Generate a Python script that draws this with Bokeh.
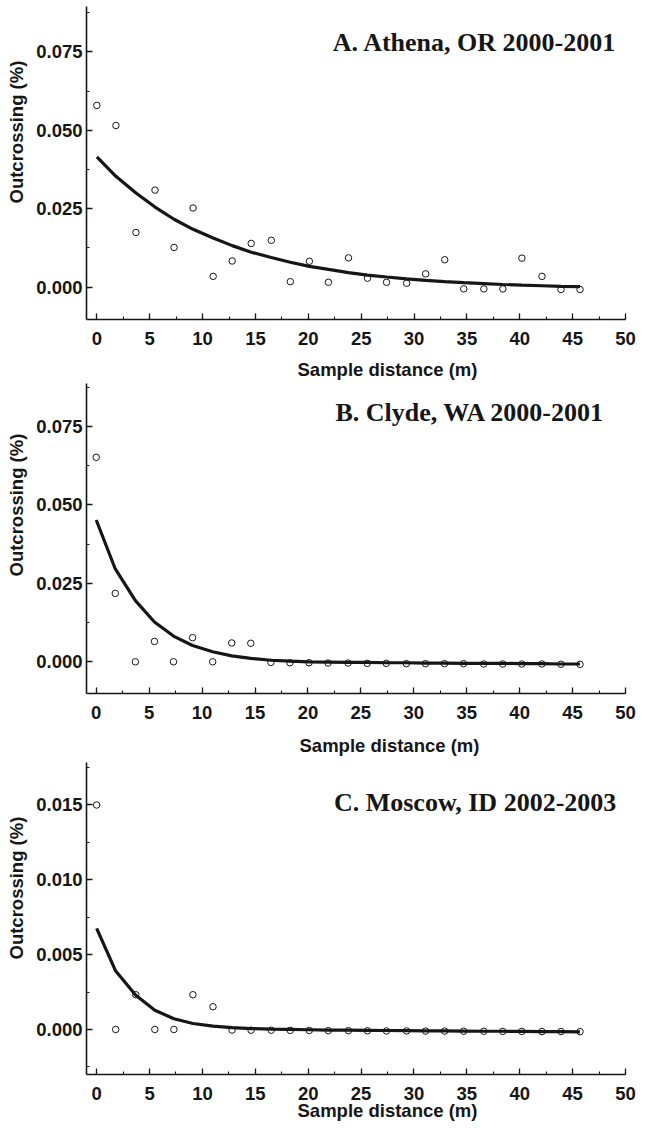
from bokeh.plotting import figure
from bokeh.models import Range1d, SingleIntervalTicker, PrintfTickFormatter, Label, Title
from bokeh.layouts import column
from bokeh.embed import file_html
from bokeh.resources import INLINE

# Sample distances (m), every 6 ft
dist_m = [0.0, 1.8, 3.7, 5.5, 7.3, 9.1, 11.0, 12.8, 14.6, 16.5, 18.3, 20.1, 21.9,
          23.8, 25.6, 27.4, 29.3, 31.1, 32.9, 34.7, 36.6, 38.4, 40.2, 42.1, 43.9, 45.7]

# A. Athena, OR 2000-2001
athena_obs = [0.0579, 0.0515, 0.0174, 0.0309, 0.0126, 0.0252, 0.0034, 0.0083, 0.0139,
              0.0149, 0.0017, 0.0082, 0.0015, 0.0093, 0.0028, 0.0015, 0.0012, 0.0042,
              0.0087, -0.0006, -0.0006, -0.0006, 0.0092, 0.0034, -0.0008, -0.0008]
athena_fit = [0.0415, 0.0353, 0.0300, 0.0255, 0.0216, 0.0184, 0.0156, 0.0132, 0.0111,
              0.0094, 0.0079, 0.0066, 0.0056, 0.0046, 0.0038, 0.0032, 0.0026, 0.0021,
              0.0017, 0.0014, 0.0011, 0.0008, 0.0006, 0.0004, 0.0002, 0.0001]

# B. Clyde, WA 2000-2001
clyde_obs = [0.0652, 0.0218, 0.0, 0.0065, 0.0, 0.0077, 0.0, 0.0060, 0.0059, -0.0002,
             -0.0003, -0.0003, -0.0004, -0.0004, -0.0005, -0.0005, -0.0006, -0.0006,
             -0.0006, -0.0006, -0.0007, -0.0007, -0.0007, -0.0007, -0.0008, -0.0008]
clyde_fit = [0.0452, 0.0296, 0.0195, 0.0127, 0.0082, 0.0052, 0.0032, 0.0019, 0.0011,
             0.0005, 0.0002, 0.0000, -0.0001, -0.0002, -0.0002, -0.0003, -0.0003,
             -0.0004, -0.0004, -0.0005, -0.0005, -0.0005, -0.0006, -0.0006, -0.0007, -0.0007]

# C. Moscow, ID 2002-2003
moscow_obs = [0.0150, 0.0, 0.00232, 0.0, 0.0, 0.00232, 0.00152, -0.00004, -0.00005,
              -0.00005, -0.00006, -0.00007, -0.00008, -0.00008, -0.00009, -0.0001,
              -0.0001, -0.00011, -0.00011, -0.00012, -0.00012, -0.00013, -0.00013,
              -0.00014, -0.00014, -0.00015]
moscow_fit = [0.00675, 0.0039, 0.00228, 0.00128, 0.00072, 0.0004, 0.00022, 0.00012,
              0.00006, 0.00002, 0.0, -0.00002, -0.00004, -0.00005, -0.00006, -0.00007,
              -0.00008, -0.00009, -0.0001, -0.00011, -0.00012, -0.00012, -0.00013,
              -0.00014, -0.00015, -0.00016]

titles = ["A. Athena, OR 2000-2001", "B. Clyde, WA 2000-2001", "C. Moscow, ID 2002-2003"]
y_label = "Outcrossing (%)"
x_label = "Sample distance (m)"

INK = "#161616"
SANS = "Liberation Sans"
SERIF = "Liberation Serif"
FS = "18.5px"


def label_title(text, offset, standoff):
    return Title(text=text, align="left", vertical_align="top", offset=offset,
                 standoff=standoff, text_font=SANS, text_font_style="bold",
                 text_font_size=FS, text_color=INK)


def panel(obs, fit, title, height, mb_left, mb_right, mb_top, mb_bottom,
          xr, yr, y_interval, title_pos, ylab_offset):
    p = figure(width=642, height=height, output_backend="svg", toolbar_location=None,
               title_location=None,
               x_range=Range1d(*xr), y_range=Range1d(*yr),
               min_border_left=mb_left, min_border_right=mb_right,
               min_border_top=mb_top, min_border_bottom=mb_bottom)
    p.background_fill_color = "white"
    p.border_fill_color = "white"
    p.outline_line_color = None
    p.xgrid.visible = False
    p.ygrid.visible = False

    p.xaxis.ticker = SingleIntervalTicker(interval=5, num_minor_ticks=2)
    p.yaxis.ticker = SingleIntervalTicker(interval=y_interval, num_minor_ticks=2)
    p.yaxis.formatter = PrintfTickFormatter(format="%.3f")
    for ax in (p.xaxis[0], p.yaxis[0]):
        ax.axis_line_color = INK
        ax.axis_line_width = 1.6
        ax.major_tick_line_color = INK
        ax.minor_tick_line_color = INK
        ax.major_tick_line_width = 1.3
        ax.minor_tick_line_width = 1.1
        ax.major_tick_in = 6
        ax.major_tick_out = 0
        ax.minor_tick_in = 3
        ax.minor_tick_out = 0
        ax.major_label_text_font = SANS
        ax.major_label_text_font_style = "bold"
        ax.major_label_text_font_size = FS
        ax.major_label_text_color = INK
    p.xaxis.major_label_standoff = 12
    p.yaxis.major_label_standoff = 4

    p.line(dist_m, fit, line_width=3.2, line_color=INK)
    p.scatter(dist_m, obs, marker="circle", size=6.5, fill_color=None,
              line_color=INK, line_width=1)

    p.add_layout(Label(x=title_pos[0], y=title_pos[1], text=title, text_font=SERIF,
                       text_font_style="bold", text_font_size="26px", text_color=INK,
                       text_align="right", text_baseline="alphabetic"))
    p.add_layout(label_title(y_label, ylab_offset, 10), "left")
    return p


pa = panel(athena_obs, athena_fit, titles[0], 355, 84, 13, 6, 36,
           (-0.98, 50), (-0.01036, 0.08945), 0.025,
           (49.16, 0.0779), 116)
pb = panel(clyde_obs, clyde_fit, titles[1], 373, 83, 15, 28, 35,
           (-0.92, 50), (-0.01011, 0.08874), 0.025,
           (48.05, 0.0795), 117)
pc = panel(moscow_obs, moscow_fit, titles[2], 397, 81, 17, 34, 51,
           (-0.96, 50), (-0.00301, 0.01784), 0.005,
           (49.13, 0.01517), 115)

# x-axis labels: panel A's and B's sit in the gap above the next panel
pb.add_layout(label_title(x_label, 211, 3), "above")
pc.add_layout(label_title(x_label, 213, 10), "above")
pc.add_layout(label_title(x_label, 211, -6), "below")

layout = column(pa, pb, pc, spacing=0)
open("out.html", "w").write(file_html(layout, INLINE))
